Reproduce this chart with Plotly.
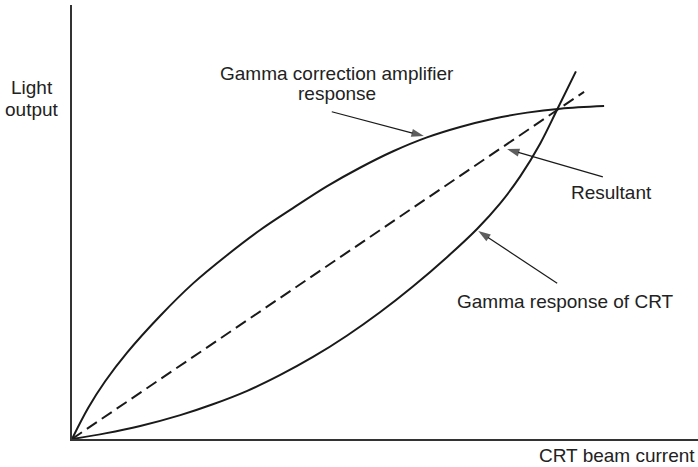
import plotly.graph_objects as go

# Gamma correction amplifier response (concave curve)
amp_x = [0, 0.26, 0.53, 0.88, 1.41, 1.93, 2.48, 3.0, 3.53, 4.07, 4.6, 5.13, 5.67, 6.2, 6.73, 7.27, 7.8, 8.5]
amp_y = [0, 0.72, 1.33, 1.99, 2.84, 3.58, 4.24, 4.81, 5.32, 5.82, 6.25, 6.63, 6.95, 7.19, 7.38, 7.52, 7.61, 7.67]

# Gamma response of the CRT (convex curve)
crt_x = [0, 0.53, 1.09, 1.73, 2.25, 2.8, 3.32, 3.85, 4.39, 4.92, 5.45, 5.99, 6.47, 6.84, 7.16, 7.48, 7.76, 8.05]
crt_y = [0, 0.13, 0.3, 0.55, 0.8, 1.11, 1.47, 1.89, 2.38, 2.92, 3.52, 4.19, 4.84, 5.43, 6.05, 6.81, 7.62, 8.47]

# Linear resultant
res_x = [0, 8.18]
res_y = [0, 8.0]

INK = "#1a1a1a"
TEXT = "#222222"
FONT = "Liberation Sans, Arial, Helvetica, sans-serif"

fig = go.Figure()

fig.add_trace(go.Scatter(x=amp_x, y=amp_y, mode="lines",
                         line=dict(color=INK, width=2, shape="spline", smoothing=1.0),
                         hoverinfo="skip"))
fig.add_trace(go.Scatter(x=crt_x, y=crt_y, mode="lines",
                         line=dict(color=INK, width=2, shape="spline", smoothing=1.0),
                         hoverinfo="skip"))
fig.add_trace(go.Scatter(x=res_x, y=res_y, mode="lines",
                         line=dict(color=INK, width=2, dash="12px,6px"),
                         hoverinfo="skip"))

# Pointer arrows: (tail x, tail y, tip x, tip y)
pointers = [
    (4.15, 7.54, 5.62, 6.98),   # amplifier response
    (8.48, 6.04, 6.95, 6.68),   # resultant
    (7.75, 3.59, 6.49, 4.79),   # CRT response
]
for x0, y0, x1, y1 in pointers:
    fig.add_trace(go.Scatter(
        x=[x0, x1], y=[y0, y1], mode="lines+markers",
        line=dict(color=INK, width=1.2),
        marker=dict(symbol="arrow", size=[0, 13], angleref="previous", color=INK,
                    line=dict(width=0)),
        hoverinfo="skip", cliponaxis=False))

# Text labels in paper coordinates
labels = [
    dict(text="Light", x=-0.0639, y=0.809, xanchor="center"),
    dict(text="output", x=-0.0639, y=0.760, xanchor="center"),
    dict(text="Gamma correction amplifier", x=0.4233, y=0.843, xanchor="center"),
    dict(text="response", x=0.4233, y=0.797, xanchor="center"),
    dict(text="Resultant", x=0.7939, y=0.569, xanchor="left"),
    dict(text="Gamma response of CRT", x=0.6118, y=0.316, xanchor="left"),
    dict(text="CRT beam current", x=0.9984, y=-0.037, xanchor="right"),
]
for lab in labels:
    fig.add_annotation(x=lab["x"], y=lab["y"], text=lab["text"], showarrow=False,
                       xref="paper", yref="paper", xanchor=lab["xanchor"], yanchor="middle",
                       font=dict(family=FONT, size=19, color=TEXT))

axis_common = dict(showgrid=False, zeroline=False, showticklabels=False, ticks="",
                   showline=True, linecolor="#333333", linewidth=1.5, fixedrange=True)
fig.update_xaxes(range=[0, 10], **axis_common)
fig.update_yaxes(range=[0, 10], **axis_common)

fig.update_layout(
    width=698, height=467,
    margin=dict(l=72, r=0, t=5, b=28),
    paper_bgcolor="white", plot_bgcolor="white",
    showlegend=False,
)

fig.write_html("out.html")
